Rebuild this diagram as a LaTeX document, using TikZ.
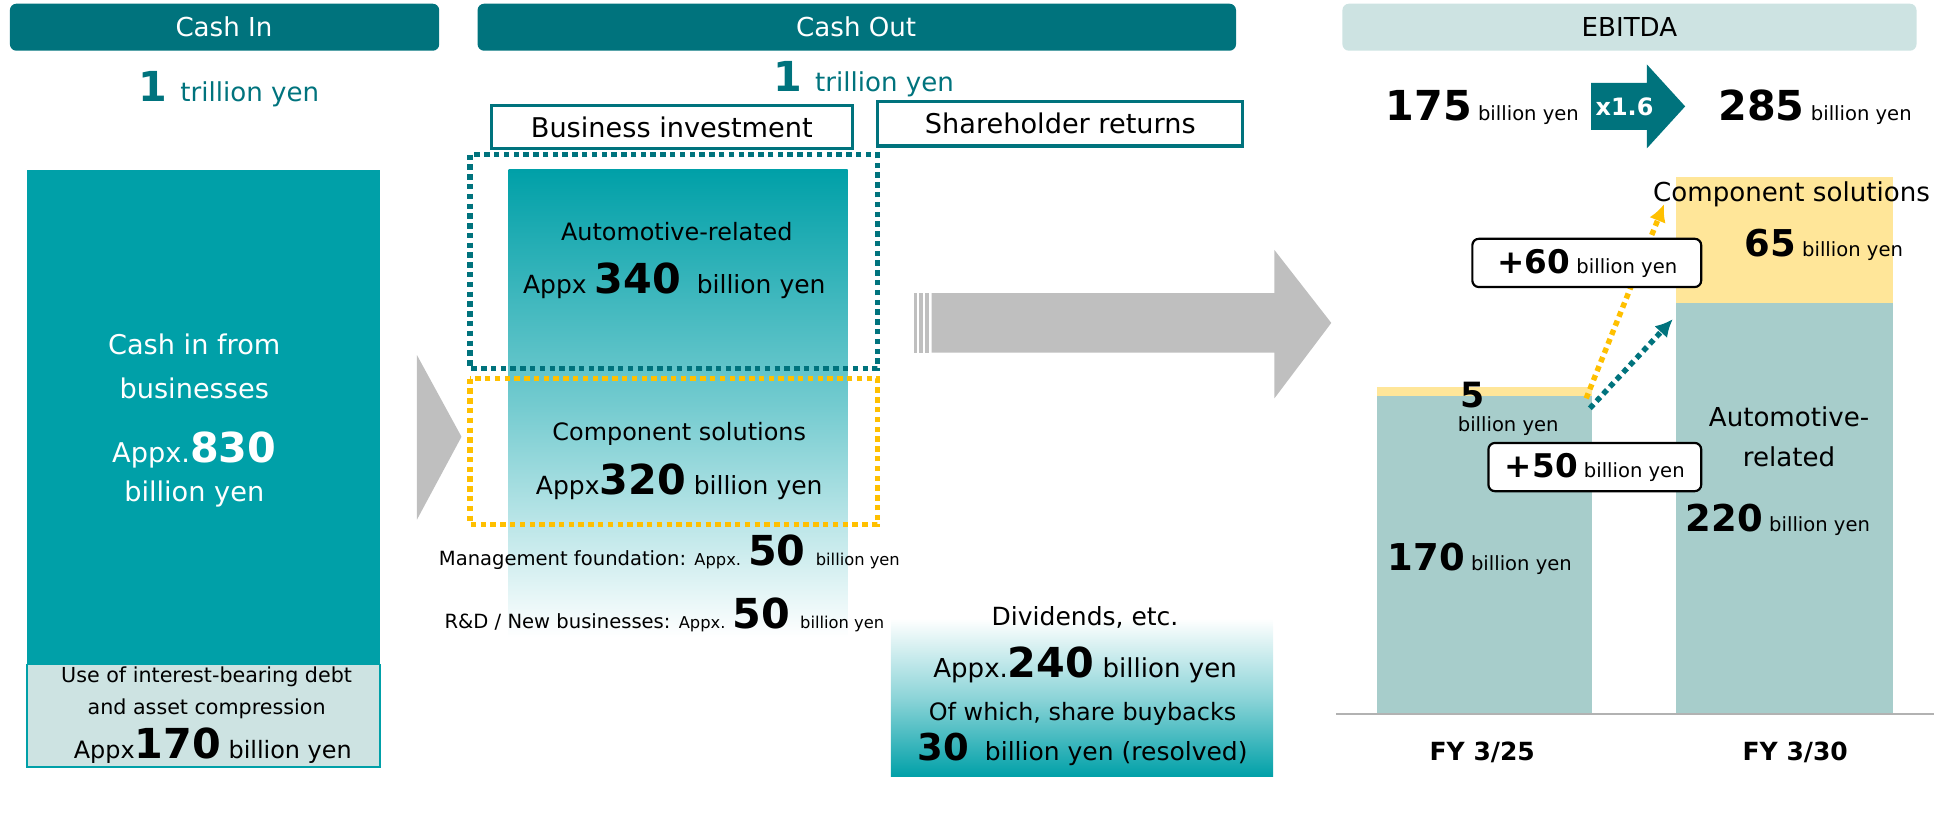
\documentclass[tikz,border=0pt]{standalone}
\usepackage{fontspec}
\setmainfont{DejaVu Sans}
\usetikzlibrary{shapes.arrows,arrows.meta}
\definecolor{hdr}{HTML}{00737D}
\definecolor{tl}{HTML}{00A0A8}
\definecolor{lt}{HTML}{CDE3E2}
\definecolor{bar}{HTML}{A7CDCB}
\definecolor{yl}{HTML}{FFE699}
\definecolor{org}{HTML}{FFC000}
\definecolor{gr}{HTML}{BFBFBF}
\newcommand{\fs}[1]{\fontsize{#1}{#1}\selectfont}
\begin{document}
\begin{tikzpicture}[x=0.02cm,y=-0.02cm,
 t/.style={inner sep=0pt,align=center},
 lab/.style={draw=black,line width=1pt,fill=white,rounded corners=3pt},
 da/.style={line width=2.5pt,dash pattern=on 2.5pt off 2pt}]
\useasboundingbox (0,0) rectangle (1568,672);
% headers
\fill[hdr,rounded corners=3pt] (8,3) rectangle (355,41);
\node[t,text=white] (hci) at (181,22) {\fs{12}Cash In};
\fill[hdr,rounded corners=3pt] (386,3) rectangle (999,41);
\node[t,text=white] (hco) at (692,22) {\fs{12}Cash Out};
\fill[lt,rounded corners=3pt] (1085,3) rectangle (1549,41);
\node[t] (heb) at (1317,22) {\fs{12}EBITDA};
\node[t,text=hdr] (t1) at (185,72) {\fs{19}\textbf{1} \fs{12}trillion yen};
\node[t,text=hdr] (t2) at (698,64) {\fs{19}\textbf{1} \fs{12}trillion yen};
\draw[hdr,line width=1.5pt] (397,85) rectangle (689,120);
\node[t] (bi) at (543,103) {\fs{12.5}Business investment};
\draw[hdr,line width=1.5pt] (709,82) rectangle (1004,118);
\node[t] (sr) at (857,100) {\fs{12.5}Shareholder returns};
% cash in
\fill[tl] (22,137) rectangle (307,537);
\fill[lt] (22,537) rectangle (307,620);
\draw[tl,line width=0.8pt] (22,537) rectangle (307,620);
\node[t,text=white] (ci) at (157,340) {\fs{12.5}Cash in from\\[8pt]\fs{12.5}businesses\\[14pt]\fs{12.5}Appx.\fs{19}\textbf{830}\\[5pt]\fs{12.5}billion yen};
\node[t] (debt) at (167,560) {\fs{9.5}Use of interest-bearing debt\\[3pt]\fs{9.5}and asset compression};
\node[t] (d170) at (172,603) {\fs{11}Appx\fs{19}\textbf{170}\fs{11} billion yen};
\fill[gr] (337,287) -- (373,353) -- (337,420) -- cycle;
% cash out column
\shade[top color=tl,bottom color=white,middle color=tl!55] (411,137) rectangle (685,515);
\draw[hdr,da] (380,125) rectangle (709,298);
\draw[org,da] (380,306) rectangle (709,424);
\node[t] (ar) at (547,187) {\fs{11}Automotive-related};
\node[t] (a340) at (545,227) {\fs{11.5}Appx \fs{19}\textbf{340}\fs{11.5} \ billion yen};
\node[t] (cs) at (549,351) {\fs{11}Component solutions};
\node[t] (a320) at (549,389) {\fs{11.5}Appx\fs{19}\textbf{320}\fs{11.5} billion yen};
\node[t] (mf) at (541,446) {\fs{9}Management foundation: \fs{7.5}Appx. \fs{19}\textbf{50}\fs{7.5} \ billion yen};
\node[t] (rd) at (537,497) {\fs{9}R\&D / New businesses: \fs{7.5}Appx. \fs{19}\textbf{50}\fs{7.5} \ billion yen};
% dividends
\shade[top color=white,bottom color=tl,middle color=tl!45] (720,500) rectangle (1029,628);
\node[t] (div) at (877,499) {\fs{11.5}Dividends, etc.};
\node[t] (d240) at (877,537) {\fs{12}Appx.\fs{19}\textbf{240}\fs{12} billion yen};
\node[t] (sb) at (875,577) {\fs{11}Of which, share buybacks};
\node[t] (s30) at (875,606) {\fs{17}\textbf{30}\fs{11.5} \ billion yen (resolved)};
% big arrow
\fill[gr] (739,237) rectangle (741,285);
\fill[gr] (743,237) rectangle (746,285);
\fill[gr] (748,237) rectangle (751,285);
\fill[gr] (753,237) -- (1030,237) -- (1030,202) -- (1076,261) -- (1030,322) -- (1030,285) -- (753,285) -- cycle;
% EBITDA numbers
\node[t] (e175) at (1198,87) {\fs{19}\textbf{175}\fs{9} billion yen};
\fill[hdr] (1286,67) -- (1331,67) -- (1331,52) -- (1362,86) -- (1331,120) -- (1331,105) -- (1286,105) -- cycle;
\node[t,text=white] (x16) at (1313,86) {\fs{11}\textbf{x1.6}};
\node[t] (e285) at (1467,87) {\fs{19}\textbf{285}\fs{9} billion yen};
% bars
\fill[bar] (1113,320) rectangle (1287,577);
\fill[yl] (1113,313) rectangle (1287,320);
\fill[yl] (1355,143) rectangle (1530,245);
\fill[bar] (1355,245) rectangle (1530,577);
\draw[gray!60,line width=0.8pt] (1080,577) -- (1563,577);
\node[t] (fy25) at (1198,608) {\fs{11.5}\textbf{FY 3/25}};
\node[t] (fy30) at (1451,608) {\fs{11.5}\textbf{FY 3/30}};
\node[t] (n5) at (1190,319) {\fs{16}\textbf{5}};
\node[t] (n5b) at (1219,344) {\fs{9}billion yen};
\node[t] (n170) at (1196,452) {\fs{17}\textbf{170}\fs{9} billion yen};
\node[t] (ar2) at (1446,353) {\fs{12}Automotive-\\[6pt]\fs{12}related};
\node[t] (n220) at (1437,420) {\fs{17}\textbf{220}\fs{9} billion yen};
\node[t] (n65) at (1474,198) {\fs{17}\textbf{65}\fs{9} billion yen};
\node[t] (cs2) at (1448,157) {\fs{12}Component solutions};
% dotted arrows
\coordinate (oa) at (1282,322); \coordinate (ob) at (1345,165);
\coordinate (ta) at (1285,330); \coordinate (tb) at (1352,258);
\draw[org,da,-{Latex[length=8pt,width=8pt]}] (oa) -- (ob);
\draw[hdr,da,-{Latex[length=8pt,width=8pt]}] (ta) -- (tb);
\draw[lab] (1190,193) rectangle (1375,232);
\node[t] (p60) at (1283,213) {\fs{15}\textbf{+60}\fs{9} billion yen};
\draw[lab] (1203,358) rectangle (1375,397);
\node[t] (p50) at (1289,378) {\fs{15}\textbf{+50}\fs{9} billion yen};
\end{tikzpicture}
\end{document}
